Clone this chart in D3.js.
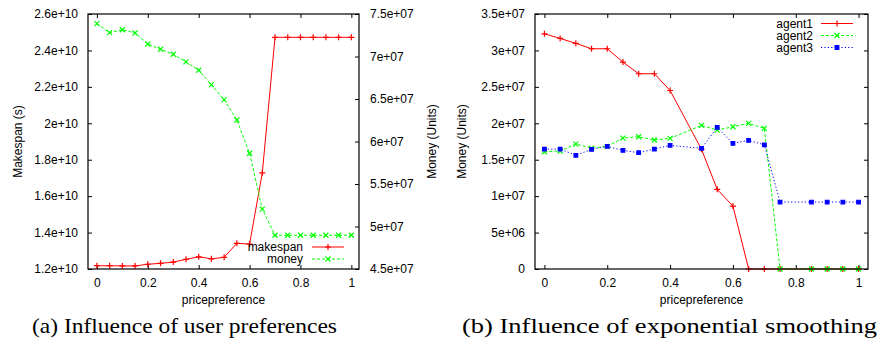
<!DOCTYPE html>
<html>
<head>
<meta charset="utf-8">
<script src="https://cdn.jsdelivr.net/npm/d3@7"></script>
<style>
  body { margin: 0; background: #fff; }
  text { font-family: "Liberation Sans", Arial, sans-serif; fill: #000; }
  text.caption { font-family: "Liberation Serif", "Times New Roman", serif; }
</style>
</head>
<body>
<svg id="chart"></svg>
<script>
// svg size
const viewWidth = 881;
const viewHeight = 344;

// (a) price preference vs makespan / money
const prefA = [0, 0.05, 0.1, 0.15, 0.2, 0.25, 0.3, 0.35, 0.4, 0.45, 0.5,
               0.55, 0.6, 0.65, 0.7, 0.75, 0.8, 0.85, 0.9, 0.95, 1];
const makespan = [1.218e10, 1.218e10, 1.217e10, 1.217e10, 1.226e10, 1.231e10, 1.238e10,
                  1.253e10, 1.267e10, 1.256e10, 1.264e10, 1.341e10, 1.337e10, 1.728e10,
                  2.472e10, 2.472e10, 2.472e10, 2.472e10, 2.472e10, 2.472e10, 2.472e10];
const money = [7.386e7, 7.28e7, 7.315e7, 7.277e7, 7.147e7, 7.085e7, 7.026e7,
               6.936e7, 6.838e7, 6.669e7, 6.492e7, 6.253e7, 5.862e7, 5.204e7,
               4.897e7, 4.897e7, 4.897e7, 4.897e7, 4.897e7, 4.897e7, 4.897e7];

// (b) money per agent (no samples at 0.45 and 0.8)
const prefB = [0, 0.05, 0.1, 0.15, 0.2, 0.25, 0.3, 0.35, 0.4, 0.5,
               0.55, 0.6, 0.65, 0.7, 0.75, 0.85, 0.9, 0.95, 1];
const agent1 = [3.228e7, 3.165e7, 3.097e7, 3.023e7, 3.023e7, 2.84e7, 2.68e7, 2.68e7, 2.45e7, 1.642e7,
                1.093e7, 8.64e6, 0, 0, 0, 0, 0, 0, 0];
const agent2 = [1.609e7, 1.619e7, 1.715e7, 1.66e7, 1.683e7, 1.797e7, 1.815e7, 1.77e7, 1.793e7, 1.971e7,
                1.907e7, 1.953e7, 1.999e7, 1.93e7, 0, 0, 0, 0, 0];
const agent3 = [1.646e7, 1.646e7, 1.56e7, 1.642e7, 1.683e7, 1.628e7, 1.596e7, 1.646e7, 1.697e7, 1.656e7,
                1.944e7, 1.724e7, 1.766e7, 1.705e7, 9.19e6, 9.19e6, 9.19e6, 9.19e6, 9.19e6];

// ticks
const xTicks = [0, 0.2, 0.4, 0.6, 0.8, 1];
const xTickLabels = ["0", "0.2", "0.4", "0.6", "0.8", "1"];
const makespanTicks = [1.2e10, 1.4e10, 1.6e10, 1.8e10, 2e10, 2.2e10, 2.4e10, 2.6e10];
const makespanLabels = ["1.2e+10", "1.4e+10", "1.6e+10", "1.8e+10", "2e+10", "2.2e+10", "2.4e+10", "2.6e+10"];
const moneyTicks = [4.5e7, 5e7, 5.5e7, 6e7, 6.5e7, 7e7, 7.5e7];
const moneyLabels = ["4.5e+07", "5e+07", "5.5e+07", "6e+07", "6.5e+07", "7e+07", "7.5e+07"];
const agentTicks = [0, 5e6, 1e7, 1.5e7, 2e7, 2.5e7, 3e7, 3.5e7];
const agentLabels = ["0", "5e+06", "1e+07", "1.5e+07", "2e+07", "2.5e+07", "3e+07", "3.5e+07"];

const svg = d3.select("#chart")
    .attr("width", viewWidth)
    .attr("height", viewHeight);

const tickLen = 4;
const fontSize = 12;

// marker shapes
const markers = {
    plus: "M-3,0H3M0,-3V3",
    cross: "M-2.5,-2.5L2.5,2.5M-2.5,2.5L2.5,-2.5",
    square: "M-1.8,-1.8H1.8V1.8H-1.8Z"
};

function drawSeries(g, xs, ys, x, y, style) {
    const pts = xs.map((v, i) => [x(v), y(ys[i])]);
    g.append("path")
        .attr("d", d3.line()(pts))
        .attr("fill", "none")
        .attr("stroke", style.color)
        .attr("stroke-width", 1)
        .attr("stroke-dasharray", style.dash);
    g.selectAll(null)
        .data(pts)
        .enter()
        .append("path")
        .attr("transform", d => `translate(${d[0]},${d[1]})`)
        .attr("d", markers[style.marker])
        .attr("stroke", style.color)
        .attr("stroke-width", 1.2)
        .attr("fill", style.marker === "square" ? style.color : "none");
}

function legendEntry(g, label, xText, xLine0, xLine1, yy, style) {
    g.append("text")
        .attr("x", xText)
        .attr("y", yy + 4)
        .attr("text-anchor", "end")
        .attr("font-size", fontSize)
        .text(label);
    g.append("line")
        .attr("x1", xLine0).attr("x2", xLine1)
        .attr("y1", yy).attr("y2", yy)
        .attr("stroke", style.color)
        .attr("stroke-width", 1)
        .attr("stroke-dasharray", style.dash);
    g.append("path")
        .attr("transform", `translate(${(xLine0 + xLine1) / 2},${yy})`)
        .attr("d", markers[style.marker])
        .attr("stroke", style.color)
        .attr("stroke-width", 1.2)
        .attr("fill", style.marker === "square" ? style.color : "none");
}

const redStyle = { color: "#ff0000", dash: null, marker: "plus" };
const greenStyle = { color: "#00ff00", dash: "3,2", marker: "cross" };
const blueStyle = { color: "#0000ff", dash: "1.2,2.2", marker: "square" };

// ---------- panel (a) ----------
const gA = svg.append("g");
const xA = d3.scaleLinear().domain([-0.035, 1.03]).range([88, 359]);
const yA = d3.scaleLinear().domain([1.2e10, 2.6e10]).range([269, 14]);
const y2A = d3.scaleLinear().domain([4.5e7, 7.5e7]).range([269, 14]);

// bottom / top ticks
gA.append("g").attr("transform", "translate(0,269)")
    .call(d3.axisBottom(xA).tickValues(xTicks).tickSize(-tickLen).tickPadding(tickLen + 5)
        .tickFormat((d, i) => xTickLabels[i]));
gA.append("g").attr("transform", "translate(0,14)")
    .call(d3.axisTop(xA).tickValues(xTicks).tickSize(-tickLen).tickFormat(""));
// left ticks
gA.append("g").attr("transform", "translate(88,0)")
    .call(d3.axisLeft(yA).tickValues(makespanTicks).tickSize(-tickLen).tickPadding(tickLen + 6)
        .tickFormat((d, i) => makespanLabels[i]));
// right ticks (money)
gA.append("g").attr("transform", "translate(359,0)")
    .call(d3.axisRight(y2A).tickValues(moneyTicks).tickSize(-tickLen).tickPadding(tickLen + 7)
        .tickFormat((d, i) => moneyLabels[i]));

drawSeries(gA, prefA, makespan, xA, yA, redStyle);
drawSeries(gA, prefA, money, xA, y2A, greenStyle);

gA.append("rect")
    .attr("x", 88).attr("y", 14).attr("width", 271).attr("height", 255)
    .attr("fill", "none").attr("stroke", "#000").attr("stroke-width", 1.2);

legendEntry(gA, "makespan", 303, 312, 344, 247, redStyle);
legendEntry(gA, "money", 303, 312, 344, 259, greenStyle);

gA.append("text")
    .attr("x", 223.5).attr("y", 304)
    .attr("text-anchor", "middle").attr("font-size", fontSize)
    .text("pricepreference");
gA.append("text")
    .attr("transform", "translate(22,141.5) rotate(-90)")
    .attr("text-anchor", "middle").attr("font-size", fontSize)
    .text("Makespan (s)");
gA.append("text")
    .attr("transform", "translate(436,141.5) rotate(-90)")
    .attr("text-anchor", "middle").attr("font-size", fontSize)
    .text("Money (Units)");

// ---------- panel (b) ----------
const gB = svg.append("g");
const xB = d3.scaleLinear().domain([-0.03, 1.03]).range([535, 868]);
const yB = d3.scaleLinear().domain([0, 3.5e7]).range([269, 14]);

gB.append("g").attr("transform", "translate(0,269)")
    .call(d3.axisBottom(xB).tickValues(xTicks).tickSize(-tickLen).tickPadding(tickLen + 5)
        .tickFormat((d, i) => xTickLabels[i]));
gB.append("g").attr("transform", "translate(0,14)")
    .call(d3.axisTop(xB).tickValues(xTicks).tickSize(-tickLen).tickFormat(""));
gB.append("g").attr("transform", "translate(535,0)")
    .call(d3.axisLeft(yB).tickValues(agentTicks).tickSize(-tickLen).tickPadding(tickLen + 6)
        .tickFormat((d, i) => agentLabels[i]));
gB.append("g").attr("transform", "translate(868,0)")
    .call(d3.axisRight(yB).tickValues(agentTicks).tickSize(-tickLen).tickFormat(""));

drawSeries(gB, prefB, agent1, xB, yB, redStyle);
drawSeries(gB, prefB, agent2, xB, yB, greenStyle);
drawSeries(gB, prefB, agent3, xB, yB, blueStyle);

gB.append("rect")
    .attr("x", 535).attr("y", 14).attr("width", 333).attr("height", 255)
    .attr("fill", "none").attr("stroke", "#000").attr("stroke-width", 1.2);

legendEntry(gB, "agent1", 813, 821, 853, 23.5, redStyle);
legendEntry(gB, "agent2", 813, 821, 853, 35.5, greenStyle);
legendEntry(gB, "agent3", 813, 821, 853, 47.5, blueStyle);

gB.append("text")
    .attr("x", 701.5).attr("y", 304)
    .attr("text-anchor", "middle").attr("font-size", fontSize)
    .text("pricepreference");
gB.append("text")
    .attr("transform", "translate(466,141.5) rotate(-90)")
    .attr("text-anchor", "middle").attr("font-size", fontSize)
    .text("Money (Units)");

// axis styling: remove domain lines (frame drawn separately)
svg.selectAll(".domain").remove();
svg.selectAll(".tick line").attr("stroke", "#000").attr("stroke-width", 1);
svg.selectAll(".tick text").attr("font-size", fontSize).attr("fill", "#000");

// captions
svg.append("text")
    .attr("class", "caption")
    .attr("x", 32).attr("y", 333)
    .attr("font-size", 22)
    .attr("textLength", 305)
    .attr("lengthAdjust", "spacingAndGlyphs")
    .text("(a) Influence of user preferences");
svg.append("text")
    .attr("class", "caption")
    .attr("x", 462).attr("y", 333)
    .attr("font-size", 22)
    .attr("textLength", 415)
    .attr("lengthAdjust", "spacingAndGlyphs")
    .text("(b) Influence of exponential smoothing");
</script>
</body>
</html>
